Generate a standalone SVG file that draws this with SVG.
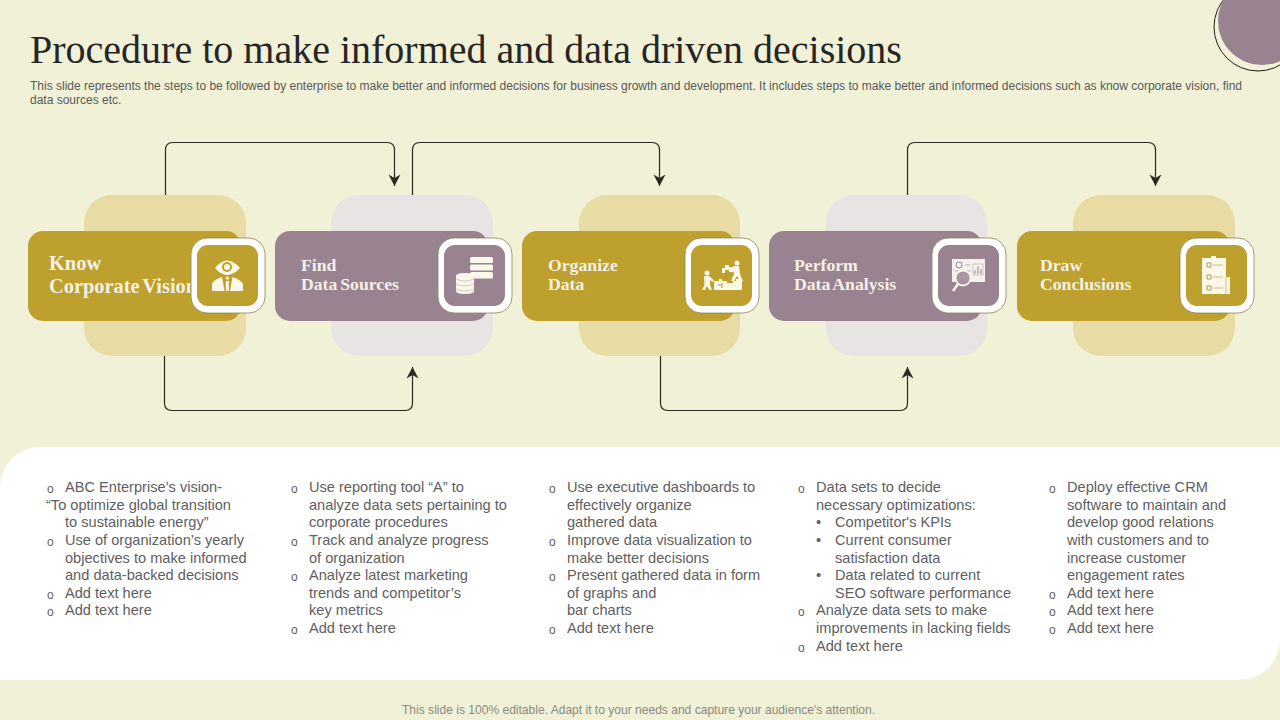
<svg xmlns="http://www.w3.org/2000/svg" width="1280" height="720" viewBox="0 0 1280 720">
<style>
.s{font-family:"Liberation Sans",Arial,sans-serif}
.title{font-family:"Liberation Serif","Times New Roman",serif;font-size:40px;fill:#262626}
.sub{font-size:12px;fill:#595959}
.foot{font-size:12.05px;fill:#8a8a80}
.b{font-size:14.6px;fill:#606060}
.o{font-size:12px;fill:#606060}
.lab{font-family:"Liberation Serif","Times New Roman",serif;font-weight:bold;font-size:17.7px;word-spacing:-1.5px;fill:#f5f1e4}
.lab1{font-size:20.4px;word-spacing:-2px}
.conn{fill:none;stroke:#2b2b22;stroke-width:1.2}
.gold{fill:#bda02d}.mauve{fill:#998391}
.bgold{fill:#e8dba4}.bmauve{fill:#e8e4e4}
.w{fill:#fff;stroke:#8f8450;stroke-width:.8}
.ic{fill:#fbf8ea}
</style>
<defs>
<marker id="a" markerWidth="14" markerHeight="14" refX="13" refY="7" orient="auto" markerUnits="userSpaceOnUse" viewBox="0 0 14 14"><path d="M13 7L1.500 1L5 7L1.500 13Z" fill="#2b2b22"/></marker>
</defs>
<rect width="1280" height="720" fill="#f1f1d7"/>
<g id="corner"><circle cx="1258" cy="27" r="44" fill="#f1f1d7" stroke="#1e1e1e" stroke-width="1"/><circle cx="1262" cy="21" r="44" fill="#998391"/></g>
<text class="title" x="30" y="63">Procedure to make informed and data driven decisions</text>
<g class="s sub"><text x="30" y="90">This slide represents the steps to be followed by enterprise to make better and informed decisions for business growth and development. It includes steps to make better and informed decisions such as know corporate vision, find</text><text x="30" y="104">data sources etc.</text></g>
<g id="panel"><path d="M40 447H1280V640A40 40 0 0 1 1240 680H0V487A40 40 0 0 1 40 447Z" fill="#fff"/></g>

<g id="n1"><rect class="bgold" x="84" y="195" width="162" height="161" rx="28"/><rect class="gold" x="28" y="231" width="213" height="90" rx="15"/>
<text class="lab lab1" x="49" y="270">Know</text><text class="lab lab1" x="49" y="293">Corporate Vision</text>
<rect class="w" x="191" y="238" width="74" height="75" rx="16"/><rect class="gold" x="197" y="245" width="61" height="61" rx="11"/>
<g class="ic"><path d="M215 268Q227 253 240 268Q227 282 215 268Z"/><circle cx="227" cy="267" r="5" fill="#bda02d"/><circle cx="227" cy="267" r="3"/><path d="M212 291V284Q213 280 222 277L224.500 291Z M230 291L232.500 277Q241 280 243 284V291Z M225.800 281H228.800V291H225.800Z"/><circle cx="227.300" cy="278" r="1.600"/></g></g>

<g id="n2"><rect class="bmauve" x="331" y="195" width="162" height="161" rx="28"/><rect class="mauve" x="275" y="231" width="213" height="90" rx="15"/><rect class="w" x="438" y="238" width="74" height="75" rx="16"/><rect class="mauve" x="444" y="245" width="61" height="61" rx="11"/>
<text class="lab" x="301" y="271">Find</text><text class="lab" x="301" y="290">Data Sources</text>
<g class="ic"><rect x="470" y="257" width="23" height="6" rx="1.500"/><rect x="470" y="264.500" width="23" height="6" rx="1.500"/><rect x="470" y="272" width="23" height="6.500" rx="1.500"/><path d="M456 276Q456 273 465 273Q474 273 474 276V291Q474 294 465 294Q456 294 456 291Z"/><path d="M456 279Q465 283 474 279M456 284Q465 288 474 284M456 289Q465 293 474 289" fill="none" stroke="#c9bcc5" stroke-width=".8"/></g></g>

<g id="n3"><rect class="bgold" x="579" y="195" width="161" height="161" rx="28"/><rect class="gold" x="522" y="231" width="213" height="90" rx="15"/><rect class="w" x="685" y="238" width="74" height="75" rx="16"/><rect class="gold" x="691" y="245" width="61" height="61" rx="11"/>
<text class="lab" x="548" y="271">Organize</text><text class="lab" x="548" y="290">Data</text>
<g class="ic"><circle cx="737" cy="263" r="2.500"/><path d="M734 266H739L740 274L743 281H740L737 276L734 281H731L734 274L733 270L730 271V269Z"/><path d="M722 268H725V265H729V267H733V272H729V270H725V273H722Z"/><circle cx="707" cy="273" r="2.500"/><path d="M704 276H709L714 280L713 282L710 280V285L712 290H709.500L707 286L705 290H702L704.500 285Z"/><path d="M714 281H719V279H722V281H727V290H714Z"/><path d="M727 283H733V281H736V279H742V290H727Z"/><path d="M718 285H722M722 283V288" stroke="#bda02d" fill="none"/></g></g>

<g id="n4"><rect class="bmauve" x="826" y="195" width="161" height="161" rx="28"/><rect class="mauve" x="769" y="231" width="213" height="90" rx="15"/><rect class="w" x="932" y="238" width="74" height="75" rx="16"/><rect class="mauve" x="938" y="245" width="61" height="61" rx="11"/>
<text class="lab" x="794" y="271">Perform</text><text class="lab" x="794" y="290">Data Analysis</text>
<g><rect x="952" y="259" width="33" height="23" fill="#f5f1ee"/><circle cx="959" cy="265" r="3" fill="none" stroke="#998391"/><path d="M955 271H971M955 275H970M965 265H970" stroke="#b9a9b3" fill="none"/><path d="M975 274V270M978 274V266M981 274V269" stroke="#998391" fill="none"/><rect x="973" y="264" width="10" height="11" fill="none" stroke="#b9a9b3" stroke-width=".6"/><circle cx="963" cy="278" r="7.500" fill="#a8959f" stroke="#fbf8ea" stroke-width="1.800"/><path d="M958 284L953 291" stroke="#fbf8ea" stroke-width="2.500"/></g></g>

<g id="n5"><rect class="bgold" x="1073" y="195" width="162" height="161" rx="28"/><rect class="gold" x="1017" y="231" width="213" height="90" rx="15"/><rect class="w" x="1180" y="238" width="74" height="75" rx="16"/><rect class="gold" x="1186" y="245" width="61" height="61" rx="11"/>
<text class="lab" x="1040" y="271">Draw</text><text class="lab" x="1040" y="290">Conclusions</text>
<g><path d="M1202 258H1211V256H1216V258H1226V277H1230V294H1202Z" fill="#fbf8ea"/><path d="M1226 277V294" stroke="#bda02d" stroke-width=".6"/><path d="M1207 263h4v4h-4zM1207 275h4v4h-4zM1207 286h4v4h-4z" fill="none" stroke="#a89a55"/><path d="M1213 265h10M1213 277h10M1213 288h10" stroke="#c9bd8a"/></g></g>

<g id="connectors">
<path class="conn" d="M165.500 195V150Q165.500 142.500 173 142.500H387Q394.500 142.500 394.500 150V186" marker-end="url(#a)"/>
<path class="conn" d="M412.500 195V150Q412.500 142.500 420 142.500H652Q659.500 142.500 659.500 150V186" marker-end="url(#a)"/>
<path class="conn" d="M907.500 195V150Q907.500 142.500 915 142.500H1148Q1155.500 142.500 1155.500 150V186" marker-end="url(#a)"/>
<path class="conn" d="M164.500 356V403Q164.500 410.500 172 410.500H405Q412.500 410.500 412.500 403V367" marker-end="url(#a)"/>
<path class="conn" d="M660.500 356V403Q660.500 410.500 668 410.500H900Q907.500 410.500 907.500 403V367" marker-end="url(#a)"/>
</g>

<g id="col1" class="s b"><text class="o" x="47" y="493">o</text><text x="65" y="492">ABC Enterprise’s vision-</text><text x="46" y="510">“To optimize global transition</text><text x="65" y="527">to sustainable energy”</text><text class="o" x="47" y="546">o</text><text x="65" y="545">Use of organization’s yearly</text><text x="65" y="563">objectives to make informed</text><text x="65" y="580">and data-backed decisions</text><text class="o" x="47" y="599">o</text><text x="65" y="598">Add text here</text><text class="o" x="47" y="616">o</text><text x="65" y="615">Add text here</text></g>
<g id="col2" class="s b"><text class="o" x="291" y="493">o</text><text x="309" y="492">Use reporting tool “A” to</text><text x="309" y="510">analyze data sets pertaining to</text><text x="309" y="527">corporate procedures</text><text class="o" x="291" y="546">o</text><text x="309" y="545">Track and analyze progress</text><text x="309" y="563">of organization</text><text class="o" x="291" y="581">o</text><text x="309" y="580">Analyze latest marketing</text><text x="309" y="598">trends and competitor’s</text><text x="309" y="615">key metrics</text><text class="o" x="291" y="634">o</text><text x="309" y="633">Add text here</text></g>
<g id="col3" class="s b"><text class="o" x="549" y="493">o</text><text x="567" y="492">Use executive dashboards to</text><text x="567" y="510">effectively organize</text><text x="567" y="527">gathered data</text><text class="o" x="549" y="546">o</text><text x="567" y="545">Improve data visualization to</text><text x="567" y="563">make better decisions</text><text class="o" x="549" y="581">o</text><text x="567" y="580">Present gathered data in form</text><text x="567" y="598">of graphs and</text><text x="567" y="615">bar charts</text><text class="o" x="549" y="634">o</text><text x="567" y="633">Add text here</text></g>
<g id="col4" class="s b"><text class="o" x="798" y="493">o</text><text x="816" y="492">Data sets to decide</text><text x="816" y="510">necessary optimizations:</text><text x="816" y="527">•</text><text x="835" y="527">Competitor's KPIs</text><text x="816" y="545">•</text><text x="835" y="545">Current consumer</text><text x="835" y="563">satisfaction data</text><text x="816" y="580">•</text><text x="835" y="580">Data related to current</text><text x="835" y="598">SEO software performance</text><text class="o" x="798" y="616">o</text><text x="816" y="615">Analyze data sets to make</text><text x="816" y="633">improvements in lacking fields</text><text class="o" x="798" y="652">o</text><text x="816" y="651">Add text here</text></g>
<g id="col5" class="s b"><text class="o" x="1049" y="493">o</text><text x="1067" y="492">Deploy effective CRM</text><text x="1067" y="510">software to maintain and</text><text x="1067" y="527">develop good relations</text><text x="1067" y="545">with customers and to</text><text x="1067" y="563">increase customer</text><text x="1067" y="580">engagement rates</text><text class="o" x="1049" y="599">o</text><text x="1067" y="598">Add text here</text><text class="o" x="1049" y="616">o</text><text x="1067" y="615">Add text here</text><text class="o" x="1049" y="634">o</text><text x="1067" y="633">Add text here</text></g>
<text class="s foot" x="402" y="714">This slide is 100% editable. Adapt it to your needs and capture your audience's attention.</text>
</svg>
